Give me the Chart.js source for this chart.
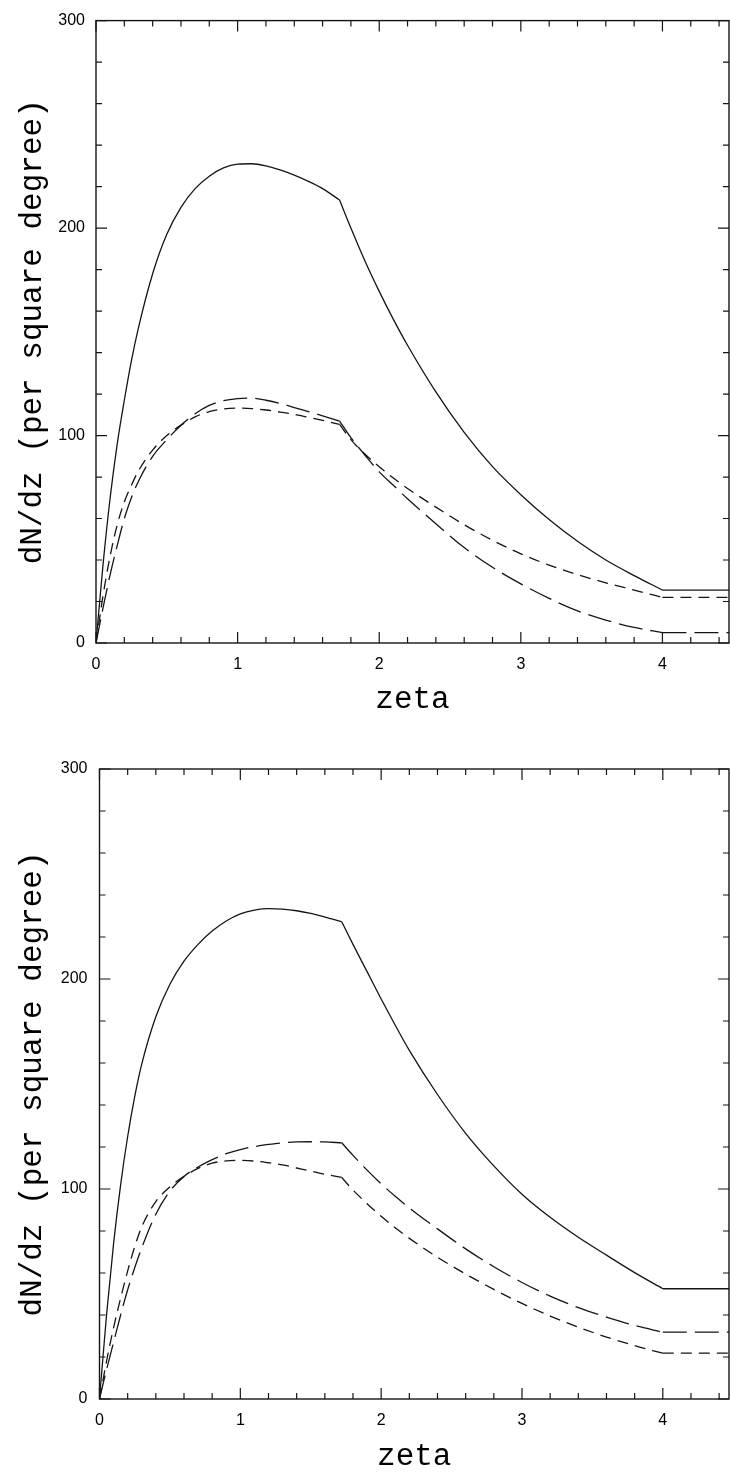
<!DOCTYPE html>
<html><head><meta charset="utf-8">
<script src="https://cdn.jsdelivr.net/npm/chart.js@4.4.1/dist/chart.umd.min.js"></script>
<style>
html,body{margin:0;padding:0;background:#fff;}
#wrap{position:relative;width:730px;height:1472px;overflow:hidden;background:#fff;}
canvas{position:absolute;left:0;}
</style></head><body>
<div id="wrap">
<canvas id="c1" width="730" height="735" style="top:0"></canvas>
<canvas id="c2" width="730" height="737" style="top:735px"></canvas>
</div>
<script>
// ---- data ----
const zeta = [0, 0.05, 0.1, 0.15, 0.2, 0.25, 0.3, 0.4, 0.5, 0.6, 0.7, 0.8, 0.9, 1.0, 1.1, 1.2, 1.3, 1.4, 1.5, 1.6, 1.72, 1.8, 1.9, 2.0, 2.1, 2.2, 2.4, 2.6, 2.8, 3.0, 3.2, 3.4, 3.6, 3.8, 4.0, 4.47];
// zeta values where the curves have a sharp break
const kinkZeta = [1.72, 4.0];

const topSolid     = [0, 38, 70, 96, 117, 136, 152, 178, 197, 210, 219, 225, 229, 230.8, 231, 230, 228, 225.5, 222.5, 219, 213.5, 200, 184, 169.5, 156, 143.5, 121, 101.5, 85, 71.5, 59.5, 49, 40, 32.5, 25.5, 25.5];
const topLongDash  = [0, 17, 33, 47, 60, 70, 78, 90, 98, 105, 110.5, 114.5, 116.8, 117.8, 118, 117, 115.5, 113.5, 111.5, 109.5, 107, 99, 90.5, 82.5, 76, 69.5, 57.5, 46, 36.5, 28.5, 21.5, 15.5, 11, 7.5, 5, 5];
const topShortDash = [0, 23, 42, 57, 68, 76, 83, 93, 100, 105, 109, 111.5, 112.8, 113.2, 113, 112.3, 111.3, 110.2, 108.8, 107.3, 105.4, 98, 91, 85, 79.5, 74.5, 65.5, 57, 49.5, 43, 37.5, 33, 29, 25.5, 22, 22];

const botSolid     = [0, 40, 74, 102, 125, 144, 159.5, 182, 197.5, 208.5, 216.5, 222.8, 227.6, 231, 232.8, 233.5, 233.3, 232.5, 231.2, 229.5, 227.3, 216.5, 203.5, 190.5, 178, 166, 145, 126.5, 111, 97.5, 86.5, 77, 68.5, 60.2, 52.5, 52.5];
const botLongDash  = [0, 14, 27, 40, 52, 62.5, 72, 88, 99, 106, 110.5, 114, 116.8, 118.8, 120.2, 121.2, 122, 122.4, 122.5, 122.4, 122, 116, 109, 102.5, 96.5, 91, 81, 71.5, 63, 55.5, 49, 43.5, 39, 35, 31.8, 31.8];
const botShortDash = [0, 18, 34, 48, 61, 72.5, 82, 94, 101, 106, 109.8, 112.3, 113.4, 113.6, 113.3, 112.5, 111.5, 110, 108.5, 107, 105.5, 99.5, 93, 87, 81.5, 76.5, 67.5, 59.5, 52.2, 45.5, 39.5, 34.2, 29.5, 25.4, 21.8, 21.8];

const xTickValues = [0, 1, 2, 3, 4];
const xTickLabels = ['0', '1', '2', '3', '4'];
const yTickValues = [0, 100, 200, 300];
const yTickLabels = ['0', '100', '200', '300'];
const xTitle = 'zeta';
const yTitle = 'dN/dz (per square degree)';
const xMin = 0, xMax = 4.47, yMin = 0, yMax = 300;
const xMinorStep = 0.2, yMinorStep = 20;

// ---- drawing ----
const INK = '#151515';
const LONG_DASH = [24, 8];
const SHORT_DASH = [11, 7];

const framePlugin = {
  id: 'frameTicks',
  afterDraw(chart) {
    const {ctx, chartArea: a, scales: {x, y}} = chart;
    ctx.save();
    ctx.strokeStyle = INK;
    ctx.lineWidth = 1.4;
    ctx.setLineDash([]);
    ctx.strokeRect(a.left, a.top, a.right - a.left, a.bottom - a.top);
    ctx.lineWidth = 1.2;
    ctx.beginPath();
    const nx = Math.floor((xMax - xMin) / xMinorStep + 1e-6);
    for (let i = 0; i <= nx; i++) {
      const v = xMin + i * xMinorStep;
      const major = xTickValues.some(t => Math.abs(t - v) < 1e-6);
      const len = major ? 11 : 6;
      const p = x.getPixelForValue(v);
      ctx.moveTo(p, a.bottom); ctx.lineTo(p, a.bottom - len);
      ctx.moveTo(p, a.top); ctx.lineTo(p, a.top + len);
    }
    const ny = Math.floor((yMax - yMin) / yMinorStep + 1e-6);
    for (let i = 0; i <= ny; i++) {
      const v = yMin + i * yMinorStep;
      const major = yTickValues.some(t => Math.abs(t - v) < 1e-6);
      const len = major ? 11 : 6;
      const p = y.getPixelForValue(v);
      ctx.moveTo(a.left, p); ctx.lineTo(a.left + len, p);
      ctx.moveTo(a.right, p); ctx.lineTo(a.right - len, p);
    }
    ctx.stroke();
    ctx.restore();
  }
};

// split one series into smooth pieces between the break points
function pieces(values) {
  const bounds = [zeta[0], ...kinkZeta, zeta[zeta.length - 1]];
  const out = [];
  for (let k = 0; k < bounds.length - 1; k++) {
    const pts = [];
    zeta.forEach((z, i) => {
      if (z >= bounds[k] - 1e-9 && z <= bounds[k + 1] + 1e-9) pts.push({x: z, y: values[i]});
    });
    out.push(pts);
  }
  return out;
}

function makeChart(id, series, L) {
  const datasets = [];
  series.forEach(s => {
    pieces(s.values).forEach(pts => {
      datasets.push({
        data: pts,
        showLine: true,
        borderColor: INK,
        borderWidth: 1.3,
        borderDash: s.dash,
        pointRadius: 0,
        pointHoverRadius: 0,
        fill: false,
        cubicInterpolationMode: 'monotone'
      });
    });
  });
  return new Chart(document.getElementById(id), {
    type: 'scatter',
    data: {datasets},
    options: {
      responsive: false,
      animation: false,
      devicePixelRatio: 1,
      events: [],
      layout: {padding: {top: L.top, right: 1, left: 0, bottom: 0}},
      plugins: {legend: {display: false}, tooltip: {enabled: false}},
      scales: {
        x: {
          type: 'linear', position: 'bottom', min: xMin, max: xMax,
          afterFit(s) { s.height = L.xAxisH; },
          afterBuildTicks(s) { s.ticks = xTickValues.map(v => ({value: v})); },
          ticks: {
            callback: (v, i) => xTickLabels[i],
            color: '#000', padding: 12, maxRotation: 0, autoSkip: false,
            font: {family: '"Liberation Sans", Arial, Helvetica, sans-serif', size: 16}
          },
          grid: {display: false, drawTicks: false},
          border: {display: false},
          title: {
            display: true, text: xTitle, color: '#000',
            font: {family: '"Courier New", "Liberation Mono", monospace', size: 31, lineHeight: 1},
            padding: {top: 0, bottom: L.xTitlePad}
          }
        },
        y: {
          type: 'linear', position: 'left', min: yMin, max: yMax,
          afterFit(s) { s.width = L.yAxisW; },
          afterBuildTicks(s) { s.ticks = yTickValues.map(v => ({value: v})); },
          ticks: {
            callback: (v, i) => yTickLabels[i],
            color: '#000', padding: L.yPad, autoSkip: false,
            font: {family: '"Liberation Sans", Arial, Helvetica, sans-serif', size: 16}
          },
          grid: {display: false, drawTicks: false},
          border: {display: false},
          title: {
            display: true, text: yTitle, color: '#000',
            font: {family: '"Courier New", "Liberation Mono", monospace', size: 31, lineHeight: 1},
            padding: {top: L.yTitlePad, bottom: 0}
          }
        }
      }
    },
    plugins: [framePlugin]
  });
}

makeChart('c1', [
  {values: topSolid, dash: []},
  {values: topLongDash, dash: LONG_DASH},
  {values: topShortDash, dash: SHORT_DASH}
], {top: 13, xAxisH: 92, yAxisW: 96, xTitlePad: 19.5, yTitlePad: 17.5, yPad: 11});

makeChart('c2', [
  {values: botSolid, dash: []},
  {values: botLongDash, dash: LONG_DASH},
  {values: botShortDash, dash: SHORT_DASH}
], {top: 34, xAxisH: 73, yAxisW: 99.5, xTitlePad: 0, yTitlePad: 17.5, yPad: 12});
</script>
</body></html>
